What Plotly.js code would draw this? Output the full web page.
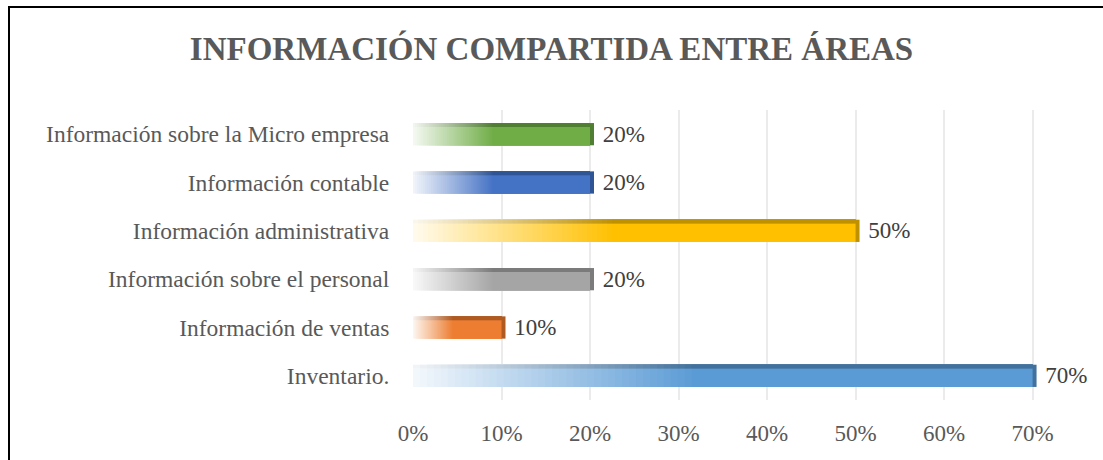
<!DOCTYPE html>
<html>
<head>
<meta charset="utf-8">
<script src="https://cdn.plot.ly/plotly-3.0.1.min.js"></script>
<style>
  html, body { margin: 0; padding: 0; background: #ffffff; overflow: hidden; }
  #chart { width: 1103px; height: 460px; }
  #frame { position: absolute; left: 8px; top: 6px; width: 1300px; height: 700px;
           border-left: 2px solid #000; border-top: 2px solid #000; pointer-events: none; }
</style>
</head>
<body>
<div id="chart"></div>
<div id="frame"></div>
<script>
// ---- Data ----
const categories = [
  'Inventario.',
  'Información de ventas',
  'Información sobre el personal',
  'Información administrativa',
  'Información contable',
  'Información sobre la Micro empresa'
];
const values = [70, 10, 20, 50, 20, 20];
const barColors = ['#5B9BD5', '#ED7D31', '#A5A5A5', '#FFC000', '#4472C4', '#70AD47'];
const darkColors = ['#41719C', '#AE5A21', '#7B7B7B', '#BF9000', '#2F5597', '#507E32'];
const tickVals = [0, 10, 20, 30, 40, 50, 60, 70];
const tickText = ['0%', '10%', '20%', '30%', '40%', '50%', '60%', '70%'];
const labels = values.map(v => '\u00a0' + v + '%');

const FONT = 'Liberation Serif';

// ---- helpers ----
function hexToRgb(h) {
  return [parseInt(h.slice(1,3),16), parseInt(h.slice(3,5),16), parseInt(h.slice(5,7),16)];
}
function mixWhite(h, m) {
  const c = hexToRgb(h);
  return 'rgb(' + c.map(x => Math.round(255 + (x - 255) * m)).join(',') + ')';
}

const N = 40;       // gradient steps
const G = 0.45;     // fraction of bar length covered by gradient
const HALF = 0.23;  // half bar thickness (category units)
const STRIP = 0.08; // top face thickness
const traces = [];

function addLayer(t0, m) {
  traces.push({
    type: 'bar', orientation: 'h', y: categories,
    base: values.map(v => v * t0), x: values.map(v => v * (1 - t0)),
    width: 2 * HALF - STRIP, offset: -HALF,
    marker: { color: barColors.map(c => mixWhite(c, m)), line: { width: 0 } },
    hoverinfo: 'skip', showlegend: false
  });
  traces.push({
    type: 'bar', orientation: 'h', y: categories,
    base: values.map(v => v * t0), x: values.map(v => v * (1 - t0)),
    width: STRIP, offset: HALF - STRIP,
    marker: { color: darkColors.map(c => mixWhite(c, m)), line: { width: 0 } },
    hoverinfo: 'skip', showlegend: false
  });
}
for (let k = 0; k < N; k++) {
  addLayer(G * k / N, 0.08 + 0.92 * (k / N));
}
addLayer(G, 1);

// right (side) face with value labels
traces.push({
  type: 'bar', orientation: 'h', y: categories,
  base: values, x: values.map(() => 0.45),
  width: 2 * HALF, offset: -HALF,
  marker: { color: darkColors, line: { width: 0 } },
  text: labels, textposition: 'outside', cliponaxis: false, constraintext: 'none',
  textfont: { family: FONT, size: 23, color: '#404040' },
  hoverinfo: 'skip', showlegend: false
});

const layout = {
  width: 1103, height: 460,
  paper_bgcolor: '#ffffff', plot_bgcolor: '#ffffff',
  margin: { l: 413, r: 66, t: 110, b: 60 },
  barmode: 'overlay',
  title: {
    text: '<b>INFORMACIÓN COMPARTIDA ENTRE ÁREAS</b>',
    font: { family: FONT, size: 33, color: '#595959' },
    x: 0.5, xref: 'container', xanchor: 'center',
    y: 1 - 48 / 460, yref: 'container', yanchor: 'middle'
  },
  xaxis: {
    range: [0, 70.5], tickvals: tickVals, ticktext: tickText,
    showgrid: true, gridcolor: '#ebebeb', gridwidth: 2,
    zeroline: false, showline: false,
    ticks: 'outside', ticklen: 12, tickcolor: 'rgba(0,0,0,0)',
    tickfont: { family: FONT, size: 23, color: '#595959' },
    fixedrange: true
  },
  yaxis: {
    type: 'category', range: [-0.5, 5.5],
    showgrid: false, zeroline: false, showline: false,
    ticks: 'outside', ticklen: 18, tickcolor: 'rgba(0,0,0,0)',
    tickfont: { family: FONT, size: 23.5, color: '#595959' },
    fixedrange: true
  },
  font: { family: FONT, color: '#595959' }
};

Plotly.newPlot('chart', traces, layout, { displayModeBar: false, staticPlot: true });
</script>
</body>
</html>
